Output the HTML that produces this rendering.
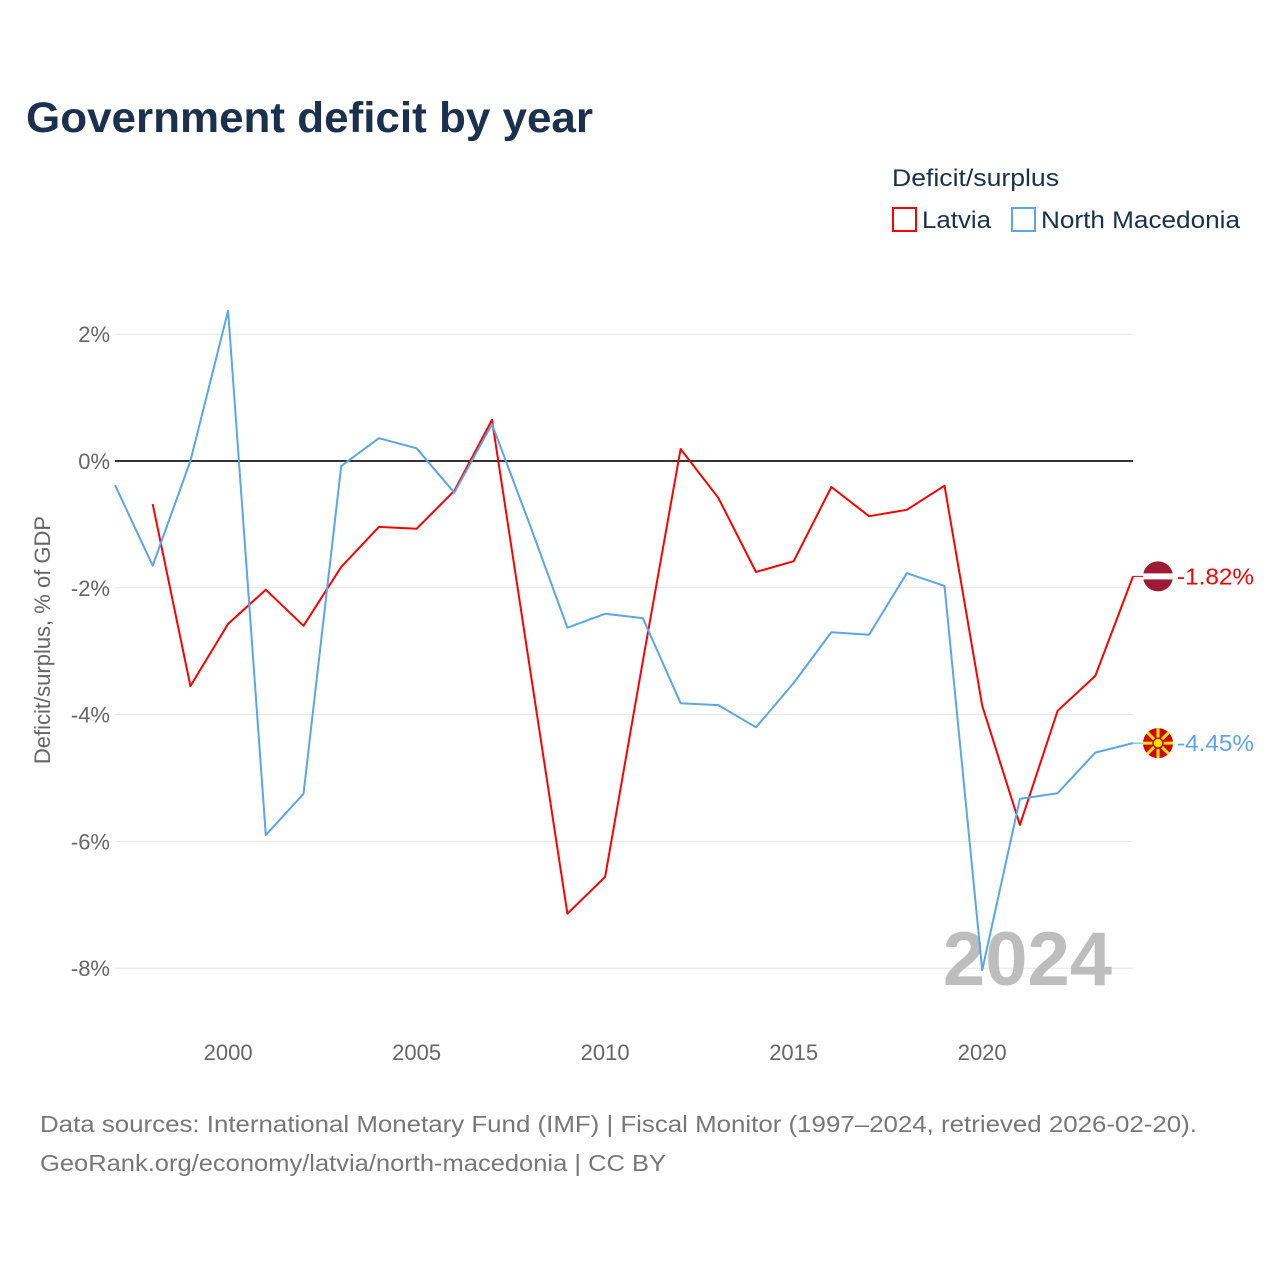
<!DOCTYPE html>
<html><head><meta charset="utf-8"><style>
body{margin:0;background:#fff;font-family:"Liberation Sans",sans-serif}
svg{display:block}
</style></head><body>
<svg id="chart" width="1280" height="1280" xmlns="http://www.w3.org/2000/svg">
<text x="26" y="132" font-size="43" font-weight="bold" fill="#1b2f4f" textLength="567" lengthAdjust="spacingAndGlyphs">Government deficit by year</text>
<text x="892" y="186" font-size="24" fill="#1b2f4f" textLength="167" lengthAdjust="spacingAndGlyphs">Deficit/surplus</text>
<g><rect x="893" y="208" width="23" height="23" fill="none" stroke="#ff0000" stroke-width="2"/><text x="922" y="228" font-size="24" fill="#1b2f4f" textLength="69" lengthAdjust="spacingAndGlyphs">Latvia</text></g>
<g><rect x="1012" y="208" width="23" height="23" fill="none" stroke="#5aa6ea" stroke-width="2"/><text x="1041" y="228" font-size="24" fill="#1b2f4f" textLength="199" lengthAdjust="spacingAndGlyphs">North Macedonia</text></g>
<g id="grid"></g><g id="xaxis"></g>
<text transform="translate(50,640) rotate(-90)" text-anchor="middle" font-size="22" fill="#666">Deficit/surplus, % of GDP</text>
<text x="1112" y="985" text-anchor="end" font-size="76" font-weight="bold" fill="#bdbdbd">2024</text>
<g id="series"></g>
<text x="40" y="1132" font-size="23" fill="#777" textLength="1157" lengthAdjust="spacingAndGlyphs">Data sources: International Monetary Fund (IMF) | Fiscal Monitor (1997–2024, retrieved 2026-02-20).</text>
<text x="40" y="1171" font-size="23" fill="#777" textLength="626" lengthAdjust="spacingAndGlyphs">GeoRank.org/economy/latvia/north-macedonia | CC BY</text>
</svg>
<script>
const years=[1997,1998,1999,2000,2001,2002,2003,2004,2005,2006,2007,2008,2009,2010,2011,2012,2013,2014,2015,2016,2017,2018,2019,2020,2021,2022,2023,2024];
const latvia=[null,-0.68,-3.55,-2.57,-2.03,-2.6,-1.67,-1.04,-1.07,-0.47,0.65,-3.25,-7.14,-6.56,-3.15,0.19,-0.58,-1.75,-1.58,-0.41,-0.87,-0.77,-0.39,-3.86,-5.74,-3.94,-3.39,-1.82];
const macedonia=[-0.38,-1.65,0.0,2.37,-5.9,-5.25,-0.08,0.36,0.2,-0.5,0.58,-1.0,-2.63,-2.41,-2.48,-3.82,-3.85,-4.2,-3.5,-2.7,-2.74,-1.77,-1.97,-8.03,-5.33,-5.24,-4.6,-4.45];
const yTicks=[2,0,-2,-4,-6,-8];
const xTicks=[2000,2005,2010,2015,2020];
const NS="http://www.w3.org/2000/svg";
const X=v=>115+(v-1997)*(1133-115)/27;
const Y=v=>461-v*63.4;
function mk(t,a,p){const e=document.createElementNS(NS,t);for(const k in a)e.setAttribute(k,a[k]);p.appendChild(e);return e;}
const grid=document.getElementById('grid');
yTicks.forEach(t=>{
  const l=mk('line',{x1:115,x2:1133,y1:Y(t),y2:Y(t),stroke:t===0?'#333':'#e6e6e6','stroke-width':t===0?2:1},grid);
  
  
  const tx=mk('text',{x:110,y:Y(t)+8,'text-anchor':'end','font-size':22,fill:'#666'},grid);
  tx.textContent=t+'%';
  
  
});
const xa=document.getElementById('xaxis');
xTicks.forEach(t=>{
  const tx=mk('text',{x:X(t),y:1060,'text-anchor':'middle','font-size':22,fill:'#666'},xa);
  tx.textContent=t;
  
  
});
const sg=document.getElementById('series');
function line(vals,color,name){
  let d='';vals.forEach((v,i)=>{if(v===null)return;d+=(d?'L':'M')+X(years[i]).toFixed(1)+','+Y(v).toFixed(1);});
  const p=mk('path',{d:d,fill:'none',stroke:color,'stroke-width':2,'stroke-linejoin':'round'},sg);
  
  
}
line(latvia,'#ff0000','latvia-line');
line(macedonia,'#5aa6ea','north-macedonia-line');
function endLabel(v,color,name,flag){
  const y=Y(v);
  mk('line',{x1:1133,x2:1145,y1:y,y2:y,stroke:color,'stroke-width':1},sg);
  const g=mk('g',{},sg);
  
  
  if(flag==='lv'){
    mk('circle',{cx:1158,cy:y,r:15,fill:'#9e1b34'},g);
    mk('rect',{x:1143,y:y-3,width:30,height:6,fill:'#fff'},g);
  }else{
    mk('circle',{cx:1158,cy:y,r:15,fill:'#d20000'},g);
    for(let k=0;k<8;k++){const a=k*Math.PI/4;mk('line',{x1:1158,y1:y,x2:1158+15*Math.cos(a),y2:y+15*Math.sin(a),stroke:'#ffe600','stroke-width':3},g);}
    mk('circle',{cx:1158,cy:y,r:5,fill:'#ffe600',stroke:'#d20000','stroke-width':1.5},g);
  }
  const t=mk('text',{x:1177,y:y+8,'font-size':23,fill:color,textLength:77,lengthAdjust:'spacingAndGlyphs'},sg);
  t.textContent=v.toFixed(2)+'%';
  
  
}
endLabel(latvia[latvia.length-1],'#ff0000','latvia','lv');
endLabel(macedonia[macedonia.length-1],'#5aa6ea','north-macedonia','mk');
</script>
</body></html>
